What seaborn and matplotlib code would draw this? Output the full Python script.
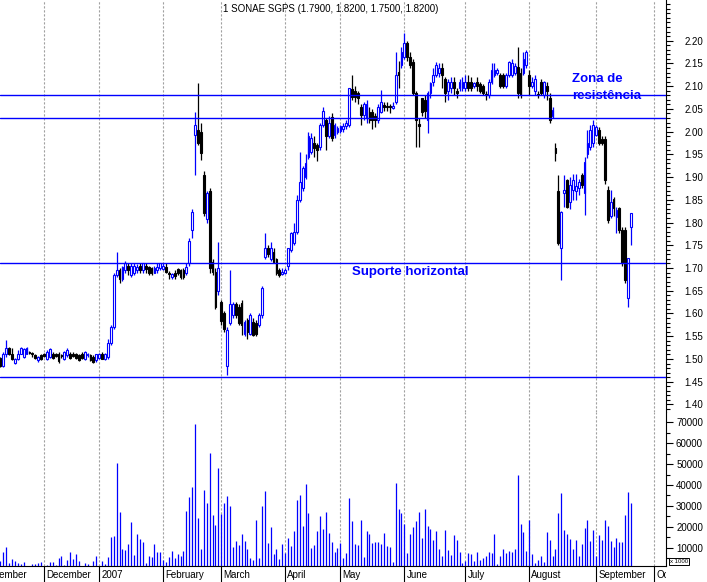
import numpy as np
import pandas as pd
import matplotlib
matplotlib.use("Agg")
import matplotlib.pyplot as plt
import seaborn as sns
from matplotlib.transforms import Bbox, TransformedBbox, blended_transform_factory
from matplotlib.ticker import FixedLocator, MultipleLocator, FormatStrFormatter

# ---------------- data ----------------
title_text = "1 SONAE SGPS (1.7900, 1.8200, 1.7500, 1.8200)"
first_day = "2006-11-10"
holidays = ["2006-12-25", "2006-12-26", "2007-01-01", "2007-04-06", "2007-04-09", "2007-05-01"]
month_labels = ["November", "December", "2007", "February", "March", "April", "May",
                "June", "July", "August", "September", "October"]

open_prices = [
    1.502, 1.485, 1.510, 1.524, 1.512, 1.492, 1.500, 1.512, 1.505, 1.512,
    1.516, 1.513, 1.509, 1.497, 1.508, 1.512, 1.500, 1.505, 1.512, 1.512,
    1.512, 1.509, 1.500, 1.508, 1.512, 1.512, 1.512, 1.508, 1.512, 1.500,
    1.508, 1.508, 1.505, 1.498, 1.502, 1.512, 1.500, 1.505, 1.535, 1.570,
    1.685, 1.695, 1.675, 1.695, 1.705, 1.685, 1.690, 1.695, 1.705, 1.695,
    1.705, 1.703, 1.700, 1.690, 1.695, 1.700, 1.698, 1.703, 1.690, 1.680,
    1.690, 1.697, 1.695, 1.695, 1.690, 1.710, 1.784, 1.993, 2.003, 1.999,
    1.905, 1.807, 1.870, 1.714, 1.692, 1.650, 1.625, 1.600, 1.485, 1.580,
    1.597, 1.620, 1.615, 1.623, 1.556, 1.585, 1.556, 1.582, 1.580, 1.575,
    1.597, 1.725, 1.745, 1.720, 1.735, 1.720, 1.695, 1.686, 1.690, 1.705,
    1.740, 1.755, 1.780, 1.850, 1.875, 1.900, 1.945, 1.955, 1.975, 1.970,
    1.967, 2.015, 2.025, 1.990, 2.033, 1.993, 2.000, 2.002, 2.005, 2.012,
    2.015, 2.094, 2.090, 2.085, 2.055, 2.036, 2.030, 2.044, 2.044, 2.035,
    2.025, 2.044, 2.058, 2.057, 2.056, 2.053, 2.066, 2.131, 2.146, 2.165,
    2.194, 2.165, 2.154, 2.084, 2.017, 2.073, 2.070, 2.025, 2.084, 2.110,
    2.124, 2.128, 2.140, 2.115, 2.090, 2.095, 2.110, 2.090, 2.095, 2.095,
    2.095, 2.110, 2.110, 2.100, 2.110, 2.105, 2.100, 2.082, 2.080, 2.110,
    2.125, 2.130, 2.125, 2.125, 2.100, 2.125, 2.125, 2.130, 2.143, 2.130,
    2.130, 2.146, 2.124, 2.100, 2.090, 2.082, 2.110, 2.080, 2.100, 2.075,
    2.034, 1.963, 1.870, 1.743, 1.865, 1.893, 1.846, 1.871, 1.870, 1.875,
    1.905, 1.864, 1.950, 1.967, 1.975, 1.992, 2.003, 1.983, 1.983, 1.871,
    1.815, 1.851, 1.813, 1.831, 1.784, 1.784, 1.633, 1.790]

high_prices = [
    1.505, 1.516, 1.542, 1.527, 1.524, 1.502, 1.520, 1.527, 1.525, 1.527,
    1.518, 1.516, 1.512, 1.506, 1.512, 1.514, 1.520, 1.524, 1.516, 1.514,
    1.515, 1.512, 1.518, 1.524, 1.516, 1.515, 1.514, 1.512, 1.515, 1.518,
    1.514, 1.512, 1.508, 1.512, 1.514, 1.516, 1.514, 1.545, 1.575, 1.690,
    1.736, 1.700, 1.705, 1.715, 1.710, 1.712, 1.710, 1.708, 1.710, 1.712,
    1.710, 1.705, 1.703, 1.705, 1.710, 1.712, 1.712, 1.710, 1.693, 1.690,
    1.695, 1.700, 1.698, 1.700, 1.710, 1.765, 1.830, 2.043, 2.106, 2.020,
    1.913, 1.870, 1.875, 1.720, 1.700, 1.757, 1.630, 1.605, 1.570, 1.695,
    1.625, 1.625, 1.620, 1.630, 1.585, 1.590, 1.600, 1.590, 1.585, 1.600,
    1.660, 1.776, 1.750, 1.757, 1.745, 1.722, 1.700, 1.700, 1.700, 1.745,
    1.780, 1.800, 1.860, 1.955, 1.925, 1.950, 2.000, 1.997, 1.990, 1.975,
    2.020, 2.055, 2.030, 2.035, 2.040, 2.020, 2.012, 2.015, 2.020, 2.025,
    2.097, 2.124, 2.100, 2.090, 2.060, 2.065, 2.070, 2.055, 2.050, 2.040,
    2.060, 2.092, 2.065, 2.065, 2.060, 2.065, 2.176, 2.155, 2.185, 2.216,
    2.200, 2.175, 2.160, 2.090, 2.030, 2.075, 2.080, 2.090, 2.110, 2.140,
    2.154, 2.150, 2.150, 2.120, 2.115, 2.120, 2.120, 2.095, 2.115, 2.120,
    2.125, 2.125, 2.120, 2.110, 2.120, 2.110, 2.105, 2.090, 2.115, 2.150,
    2.150, 2.140, 2.130, 2.130, 2.130, 2.156, 2.160, 2.150, 2.186, 2.140,
    2.175, 2.180, 2.135, 2.120, 2.125, 2.090, 2.115, 2.112, 2.110, 2.085,
    2.055, 1.976, 1.905, 1.826, 1.905, 1.895, 1.900, 1.907, 1.907, 1.895,
    1.908, 1.945, 2.003, 2.015, 2.025, 2.015, 2.010, 1.990, 1.990, 1.880,
    1.871, 1.857, 1.835, 1.835, 1.790, 1.790, 1.722, 1.820]

low_prices = [
    1.483, 1.483, 1.505, 1.508, 1.498, 1.488, 1.498, 1.510, 1.502, 1.510,
    1.510, 1.505, 1.500, 1.494, 1.498, 1.505, 1.498, 1.502, 1.500, 1.505,
    1.492, 1.503, 1.497, 1.505, 1.500, 1.504, 1.500, 1.495, 1.500, 1.497,
    1.505, 1.495, 1.492, 1.494, 1.500, 1.500, 1.498, 1.500, 1.530, 1.565,
    1.680, 1.667, 1.672, 1.690, 1.685, 1.680, 1.685, 1.690, 1.690, 1.690,
    1.690, 1.685, 1.685, 1.688, 1.690, 1.695, 1.695, 1.690, 1.675, 1.675,
    1.675, 1.685, 1.675, 1.676, 1.685, 1.705, 1.765, 1.904, 1.970, 1.937,
    1.815, 1.800, 1.690, 1.685, 1.610, 1.640, 1.575, 1.560, 1.465, 1.575,
    1.590, 1.590, 1.575, 1.553, 1.550, 1.545, 1.553, 1.550, 1.550, 1.570,
    1.590, 1.720, 1.725, 1.715, 1.710, 1.685, 1.680, 1.684, 1.686, 1.695,
    1.735, 1.750, 1.775, 1.845, 1.870, 1.895, 1.940, 1.950, 1.945, 1.935,
    1.960, 2.010, 1.959, 1.985, 1.980, 1.985, 1.995, 1.997, 2.000, 2.005,
    2.010, 2.070, 2.065, 2.060, 2.015, 2.025, 2.020, 2.020, 2.005, 2.010,
    2.020, 2.040, 2.045, 2.045, 2.040, 2.050, 2.060, 2.095, 2.140, 2.160,
    2.155, 2.140, 2.080, 1.967, 1.967, 2.035, 2.030, 1.996, 2.075, 2.100,
    2.120, 2.120, 2.095, 2.066, 2.070, 2.085, 2.080, 2.075, 2.090, 2.090,
    2.090, 2.090, 2.090, 2.095, 2.090, 2.085, 2.080, 2.070, 2.075, 2.105,
    2.120, 2.125, 2.095, 2.095, 2.095, 2.120, 2.120, 2.125, 2.075, 2.075,
    2.125, 2.140, 2.080, 2.095, 2.080, 2.075, 2.080, 2.075, 2.070, 2.020,
    2.030, 1.936, 1.750, 1.674, 1.835, 1.833, 1.830, 1.850, 1.850, 1.860,
    1.875, 1.816, 1.942, 1.960, 1.967, 1.990, 1.970, 1.970, 1.885, 1.800,
    1.810, 1.815, 1.776, 1.776, 1.705, 1.667, 1.615, 1.750]

close_prices = [
    1.485, 1.512, 1.524, 1.512, 1.501, 1.500, 1.512, 1.524, 1.522, 1.524,
    1.514, 1.511, 1.502, 1.504, 1.500, 1.507, 1.516, 1.522, 1.502, 1.506,
    1.495, 1.506, 1.515, 1.520, 1.502, 1.506, 1.502, 1.498, 1.502, 1.516,
    1.512, 1.498, 1.494, 1.510, 1.512, 1.500, 1.512, 1.535, 1.570, 1.685,
    1.695, 1.675, 1.703, 1.710, 1.695, 1.705, 1.705, 1.703, 1.695, 1.710,
    1.698, 1.690, 1.688, 1.700, 1.703, 1.710, 1.705, 1.692, 1.686, 1.686,
    1.682, 1.690, 1.680, 1.680, 1.703, 1.760, 1.824, 2.015, 1.975, 1.952,
    1.820, 1.864, 1.700, 1.692, 1.615, 1.700, 1.583, 1.565, 1.563, 1.620,
    1.620, 1.597, 1.580, 1.574, 1.582, 1.560, 1.597, 1.553, 1.556, 1.597,
    1.655, 1.743, 1.730, 1.745, 1.714, 1.690, 1.684, 1.692, 1.695, 1.743,
    1.776, 1.780, 1.850, 1.890, 1.920, 1.930, 1.990, 1.985, 1.963, 1.960,
    2.015, 2.045, 1.990, 2.020, 1.985, 2.015, 2.007, 2.012, 2.012, 2.020,
    2.095, 2.077, 2.077, 2.075, 2.036, 2.060, 2.060, 2.025, 2.025, 2.025,
    2.055, 2.066, 2.055, 2.054, 2.054, 2.057, 2.124, 2.124, 2.176, 2.195,
    2.165, 2.146, 2.084, 2.025, 2.013, 2.044, 2.045, 2.084, 2.106, 2.125,
    2.146, 2.140, 2.125, 2.084, 2.110, 2.110, 2.095, 2.084, 2.110, 2.110,
    2.110, 2.095, 2.095, 2.106, 2.100, 2.090, 2.085, 2.080, 2.110, 2.135,
    2.135, 2.135, 2.100, 2.100, 2.125, 2.154, 2.150, 2.145, 2.085, 2.080,
    2.160, 2.175, 2.100, 2.110, 2.115, 2.080, 2.085, 2.110, 2.090, 2.025,
    2.047, 1.954, 1.755, 1.824, 1.871, 1.835, 1.882, 1.893, 1.880, 1.890,
    1.882, 1.934, 1.975, 2.003, 2.015, 2.010, 1.974, 1.975, 1.893, 1.805,
    1.846, 1.831, 1.828, 1.784, 1.710, 1.674, 1.721, 1.820]

volume = [
    3800, 8100, 10100, 2900, 4800, 3800, 2500, 2000, 3100, 800,
    800, 2300, 2300, 2900, 3100, 800, 1700, 3100, 3100, 1700,
    5300, 6200, 1900, 4300, 8000, 4600, 7100, 3800, 800, 2700,
    2300, 800, 3800, 6200, 800, 3800, 2300, 5600, 14900, 15600,
    50700, 27100, 9400, 8900, 11800, 22300, 6700, 16600, 14200, 12700,
    2900, 6100, 5600, 11800, 8100, 8100, 4100, 3300, 5700, 8400,
    5300, 7000, 6200, 8400, 27600, 34300, 39100, 69200, 24400, 9400,
    37600, 31400, 55300, 25700, 20900, 48100, 26300, 31400, 34800, 30000,
    10300, 13200, 11300, 16600, 13400, 9400, 5300, 4100, 23200, 5300,
    30000, 37300, 12200, 20100, 7000, 9400, 4600, 11800, 7500, 14700,
    10900, 18100, 32800, 35200, 20400, 40600, 26600, 9800, 11400, 18100,
    25200, 19000, 27100, 17100, 12700, 8000, 9800, 12200, 5300, 7500,
    33800, 22800, 11800, 11300, 23400, 5700, 18100, 16600, 12200, 12700,
    12700, 11800, 17100, 10900, 10300, 3100, 41000, 28500, 26600, 21300,
    7500, 16600, 20000, 22800, 27100, 14700, 28500, 20400, 19000, 13900,
    18100, 9400, 6100, 18600, 8900, 6500, 16100, 13900, 8000, 2900,
    3500, 7500, 7000, 3700, 8000, 4100, 5100, 6100, 8000, 7500,
    16600, 2200, 6100, 9400, 7500, 8400, 8100, 9400, 44700, 21300,
    17400, 8400, 23400, 7000, 2900, 4100, 6100, 3100, 17400, 13900,
    6100, 9400, 26600, 36200, 18600, 16600, 14200, 9400, 13900, 6100,
    11800, 19500, 23200, 13200, 18600, 6100, 16100, 13900, 23200, 20400,
    13200, 10300, 14700, 12700, 12700, 25700, 36700, 31400]

support_level = 1.71
resistance_levels = [2.08, 2.03]
low_line = 1.46

# ---------------- calendar ----------------
cal = pd.bdate_range("2006-11-01", "2007-10-31", freq="C", holidays=holidays)
start = cal.get_loc(pd.Timestamp(first_day))
cal_pos = np.arange(len(cal)) - start
n = len(close_prices)
x = cal_pos[start:start + n]
month_first = pd.Series(cal_pos, index=cal).groupby(cal.to_period("M")).first()
month_pos = month_first.values.astype(float)

o = np.array(open_prices); h = np.array(high_prices)
l = np.array(low_prices); c = np.array(close_prices)
v = np.array(volume)
up = c >= o

# ---------------- style ----------------
sns.set_theme(style="white")
plt.rcParams["font.family"] = ["Liberation Sans", "DejaVu Sans"]
BLUE = "#0000ff"
GRID = "#a0a0a0"

fig = plt.figure(figsize=(7.07, 5.82), dpi=100)
fig.patch.set_facecolor("white")
W, H = 707.0, 582.0
ax_p = fig.add_axes([0, (H - 412) / H, 666 / W, 412 / H])
ax_v = fig.add_axes([0, (H - 566) / H, 666 / W, (566 - 412) / H])

px_per_day = 2.906
x_lo = -0.4 / px_per_day
x_hi = x_lo + 666 / px_per_day
for ax in (ax_p, ax_v):
    ax.set_facecolor("white")
    for m in month_pos:
        ax.axvline(m, color=GRID, lw=0.8, ls=(0, (2.0, 1.6)), zorder=0)

# price scale: 454.7 px per unit, 1.45 at 381.7 px from top
ppu = 454.7
ppv = 2.09 / 1000.0

# candles
ax_p.vlines(x[up], l[up], h[up], color=BLUE, lw=0.9, zorder=2)
ax_p.vlines(x[~up], l[~up], h[~up], color="black", lw=0.9, zorder=2)
body_up = np.where(np.abs(c - o) < 0.0015, 0.0015, c - o)
ax_p.bar(x[up], body_up[up], bottom=o[up], width=0.62, facecolor="white",
         edgecolor=BLUE, linewidth=0.8, zorder=3)
ax_p.bar(x[~up], (c - o)[~up], bottom=o[~up], width=0.62, facecolor="black",
         edgecolor="black", linewidth=0.8, zorder=3)

for lev in resistance_levels + [support_level, low_line]:
    ax_p.axhline(lev, color=BLUE, lw=1.0, zorder=4)

# volume
ax_v.vlines(x, 0, v, color=BLUE, lw=0.9, zorder=2)

# spines and ticks
for ax in (ax_p, ax_v):
    for s in ("left", "top"):
        ax.spines[s].set_visible(False)
    ax.spines["right"].set_visible(True)
    ax.spines["right"].set_color("black")
    ax.spines["right"].set_linewidth(0.8)
    ax.yaxis.tick_right()
ax_p.spines["bottom"].set_visible(False)
ax_v.spines["bottom"].set_visible(True)
ax_v.spines["bottom"].set_color("black")
ax_v.spines["bottom"].set_linewidth(0.8)

ax_p.yaxis.set_major_locator(FixedLocator(np.round(np.arange(1.40, 2.2001, 0.05), 2)))
ax_p.yaxis.set_minor_locator(MultipleLocator(0.01))
ax_p.yaxis.set_major_formatter(FormatStrFormatter("%.2f"))
ax_v.yaxis.set_major_locator(FixedLocator(np.arange(10000, 70001, 10000)))
ax_v.yaxis.set_minor_locator(MultipleLocator(5000))
ax_v.yaxis.set_major_formatter(FormatStrFormatter("%d"))

ax_p.set_xticks([])
ax_v.set_xticks(month_pos)
ax_v.tick_params(axis="x", which="major", bottom=True, length=11.5, width=0.8,
                 color="black", direction="out", labelbottom=False)

# limits set after ticks so nothing expands them
for ax in (ax_p, ax_v):
    ax.set_xlim(x_lo, x_hi)
ax_p.set_ylim(1.45 - (412 - 381.7) / ppu, 1.45 + 381.7 / ppu)
ax_v.set_ylim(10000 - (566 - 547.7) / ppv, 10000 + (547.7 - 412) / ppv)

for ax in (ax_p, ax_v):
    ax.tick_params(axis="y", which="major", right=True, left=False, length=5.2, width=0.8,
                   color="black", direction="out", pad=21.4, labelsize=7, labelcolor="black")
    ax.tick_params(axis="y", which="minor", right=True, left=False, length=2.9, width=0.8,
                   color="black", direction="out")
    for lbl in ax.get_yticklabels():
        lbl.set_horizontalalignment("right")

# month labels, clipped at the right axis edge
clip = TransformedBbox(Bbox([[0, 0], [666 / W, 1]]), fig.transFigure)
trans = blended_transform_factory(ax_v.transData, fig.transFigure)
for m, lab in zip(month_pos, month_labels):
    t = ax_v.text(m + 0.7, 1 - 575 / H, lab, transform=trans, ha="left", va="center",
                  fontsize=7, color="black", clip_on=True)
    t.set_clip_box(clip)

# title and notes
fig.text(331 / W, 1 - 9 / H, title_text, ha="center", va="center", fontsize=7, color="black")
fig.text(679 / W, 1 - 561.5 / H, "x 1000", ha="center", va="center", fontsize=4.3,
         color="black", bbox=dict(boxstyle="square,pad=0.15", fc="white", ec="black", lw=0.7))

def px_to_day(px):
    return (px - 0.4) / px_per_day

def py_to_price(py):
    return 1.45 + (381.7 - py) / ppu

ax_p.text(px_to_day(572), py_to_price(79), "Zona de", color=BLUE, fontsize=9.5,
          fontweight="bold", ha="left", va="center", zorder=5)
ax_p.text(px_to_day(572), py_to_price(96), "resistência", color=BLUE, fontsize=9.5,
          fontweight="bold", ha="left", va="center", zorder=5)
ax_p.text(px_to_day(352), py_to_price(272), "Suporte horizontal", color=BLUE, fontsize=9.5,
          fontweight="bold", ha="left", va="center", zorder=5)

fig.savefig("out.png", dpi=100, facecolor="white")
